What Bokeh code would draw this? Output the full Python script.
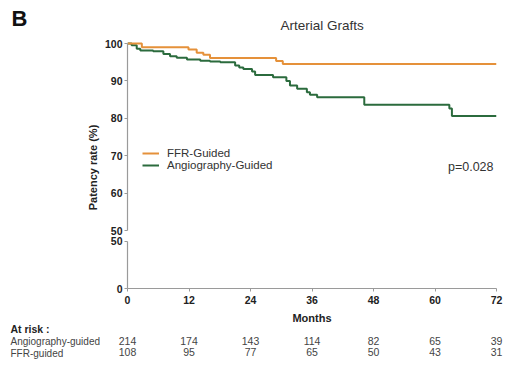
from bokeh.plotting import figure
from bokeh.layouts import column, row
from bokeh.models import (Range1d, FixedTicker, Label, LinearAxis,
                          Legend, LegendItem)
from bokeh.embed import file_html
from bokeh.resources import INLINE
import math

# ---- data ----
ffr_months = [0, 2.8, 11.9, 13.5, 14.8, 16.1, 29.0, 30.3, 72]
ffr_patency = [100, 99.0, 98.4, 97.5, 97.0, 96.1, 95.3, 94.5, 94.5]

angio_months = [0, 0.8, 1.8, 2.5, 5.0, 7.0, 8.3, 9.6, 11.6, 14.2, 16.1, 18.1,
                21.0, 21.8, 22.6, 24.3, 24.9, 28.4, 31.0, 31.7, 33.1, 35.0,
                35.6, 37.0, 46.2, 62.8, 63.3, 72]
angio_patency = [100, 99.5, 98.6, 98.1, 97.9, 97.2, 96.6, 96.2, 95.7, 95.4, 95.2,
                 95.0, 94.1, 93.6, 93.2, 92.5, 91.6, 91.0, 90.0, 88.8, 87.9,
                 87.0, 86.3, 85.6, 83.6, 82.6, 80.6, 80.6]

risk_months = [0, 12, 24, 36, 48, 60, 72]
angio_at_risk = [214, 174, 143, 114, 82, 65, 39]
ffr_at_risk = [108, 95, 77, 65, 50, 43, 31]

upper_ticks = [50, 60, 70, 80, 90, 100]
lower_ticks = [0, 50]
x_ticks = [0, 12, 24, 36, 48, 60, 72]

FONT = "Liberation Sans"
ORANGE = "#E5913A"
GREEN = "#2B6B3D"
AXIS_C = "#9a9a9a"
TXT = "#222222"
GREY_TXT = "#444444"

LW = 100          # width of the left text column
W = 412           # width of the plot column
H_TOTAL = 364
xr = Range1d(0, 72)


def style_axis(ax, label_size="10.5px"):
    ax.axis_line_color = AXIS_C
    ax.axis_line_width = 1.2
    ax.major_tick_line_color = AXIS_C
    ax.minor_tick_line_color = None
    ax.major_tick_out = 3
    ax.major_tick_in = 0
    ax.major_label_text_font = FONT
    ax.major_label_text_font_style = "bold"
    ax.major_label_text_font_size = label_size
    ax.major_label_text_color = TXT


def lab(p, text, x, y, size, style="normal", color="#333333", align="left", angle=0):
    p.add_layout(Label(x=x, y=y, x_units="screen", y_units="screen", text=text,
                       text_font=FONT, text_font_size=size, text_font_style=style,
                       text_color=color, text_align=align, text_baseline="middle",
                       angle=angle))


# ---- left text column ----
pl = figure(width=LW, height=H_TOTAL, x_range=Range1d(0, LW), y_range=Range1d(0, H_TOTAL),
            output_backend="svg", toolbar_location=None, x_axis_location=None,
            y_axis_location=None, min_border=0)
pl.outline_line_color = None
pl.grid.visible = False
lab(pl, "B", 11, H_TOTAL - 18, "22px", "bold", "#111111")
lab(pl, "Patency rate (%)", 92, H_TOTAL - 167, "11px", "bold", TXT, "center", math.pi / 2)
lab(pl, "At risk :", 10, H_TOTAL - 328, "10.5px", "bold", TXT)
lab(pl, "Angiography-guided", 10, H_TOTAL - 341, "10px", "normal", GREY_TXT)
lab(pl, "FFR-guided", 10, H_TOTAL - 353, "10px", "normal", GREY_TXT)

# ---- upper panel (50-100) ----
p1 = figure(width=W, height=236, x_range=xr, y_range=Range1d(49.47, 101.07),
            output_backend="svg", toolbar_location=None, x_axis_location=None,
            min_border_left=27, min_border_right=16, min_border_top=39,
            min_border_bottom=4, title="Arterial Grafts")
p1.outline_line_color = None
p1.grid.visible = False
p1.title.align = "left"
p1.title.offset = 153
p1.title.standoff = 13
p1.title.text_font = FONT
p1.title.text_font_size = "13.5px"
p1.title.text_font_style = "normal"
p1.title.text_color = "#333333"

ya = p1.yaxis[0]
ya.ticker = FixedTicker(ticks=upper_ticks)
ya.bounds = (50, 100)
style_axis(ya)
ya.major_label_standoff = 2

r_angio = p1.step(angio_months, angio_patency, mode="after", line_color=GREEN, line_width=2)
r_ffr = p1.step(ffr_months, ffr_patency, mode="after", line_color=ORANGE, line_width=2)

for label, rend, ly in (("FFR-Guided", r_ffr, 73), ("Angiography-Guided", r_angio, 61)):
    lg = Legend(items=[LegendItem(label=label, renderers=[rend])],
                location=(15, ly), padding=0, margin=0, spacing=0,
                border_line_color=None, background_fill_alpha=0,
                label_text_font=FONT, label_text_font_size="11.5px",
                label_text_color="#333333", label_height=10, glyph_height=10,
                glyph_width=17, label_standoff=8)
    p1.add_layout(lg)

lab(p1, "p=0.028", 366, 66, "12.5px", "normal", "#333333", "right")

# ---- lower panel (0-50) ----
p2 = figure(width=W, height=128, x_range=xr, y_range=Range1d(0, 52.1),
            output_backend="svg", toolbar_location=None,
            min_border_left=27, min_border_right=16, min_border_top=3,
            min_border_bottom=76)
p2.outline_line_color = None
p2.grid.visible = False
yb = p2.yaxis[0]
yb.ticker = FixedTicker(ticks=lower_ticks)
yb.bounds = (0, 50)
style_axis(yb)
yb.major_label_standoff = 2

xa = p2.xaxis[0]
xa.ticker = FixedTicker(ticks=x_ticks)
style_axis(xa, "10.5px")
xa.major_label_standoff = 4
xa.axis_label = "Months"
xa.axis_label_text_font = FONT
xa.axis_label_text_font_style = "bold"
xa.axis_label_text_font_size = "11px"
xa.axis_label_text_color = TXT
xa.axis_label_standoff = 5

# at-risk rows, placed by the x scale
for counts, standoff in ((angio_at_risk, 10), (ffr_at_risk, 0)):
    ax = LinearAxis(ticker=FixedTicker(ticks=risk_months),
                    major_label_overrides={m: str(c) for m, c in zip(risk_months, counts)})
    ax.axis_line_color = None
    ax.major_tick_line_color = None
    ax.minor_tick_line_color = None
    ax.major_tick_out = 0
    ax.major_tick_in = 0
    ax.major_label_standoff = standoff
    ax.major_label_text_font = FONT
    ax.major_label_text_font_size = "10.5px"
    ax.major_label_text_color = GREY_TXT
    p2.add_layout(ax, "below")

layout = row(pl, column(p1, p2, spacing=0), spacing=0)
open("out.html", "w").write(file_html(layout, INLINE))
